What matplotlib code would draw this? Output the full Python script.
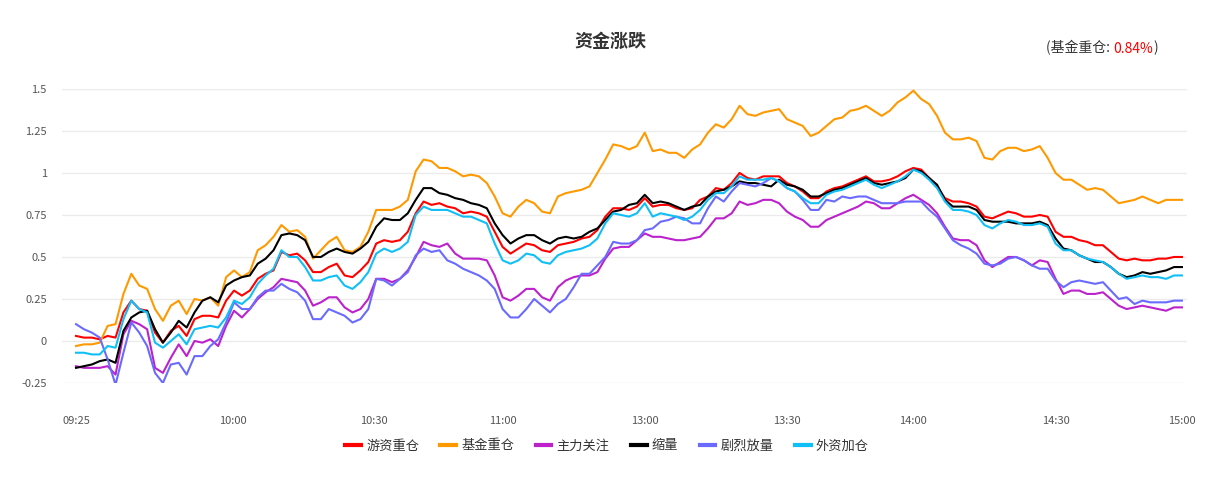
import matplotlib
matplotlib.use("Agg")
import matplotlib.pyplot as plt
from matplotlib.offsetbox import TextArea, HPacker, AnnotationBbox

plt.rcParams["font.family"] = ["Noto Sans CJK SC", "DejaVu Sans"]

# tick labels of the time axis and where they sit on the sample index
time_labels = ["09:25", "10:00", "10:30", "11:00", "13:00", "13:30", "14:00", "14:30", "15:00"]
time_pos = [0, 19.9, 37.7, 54, 72, 90, 106, 124, 140]

y_ticks = [-0.25, 0, 0.25, 0.5, 0.75, 1, 1.25, 1.5]
y_labels = ["-0.25", "0", "0.25", "0.5", "0.75", "1", "1.25", "1.5"]

names = ["游资重仓", "基金重仓", "主力关注", "缩量", "剧烈放量", "外资加仓"]
colors = ["#ff0000", "#ff9900", "#bb22cc", "#000000", "#6a6aff", "#10bff5"]

# 游资重仓
red = [0.03, 0.02, 0.02, 0.01, 0.03, 0.02, 0.17, 0.24, 0.19, 0.18,
       0.05, -0.01, 0.06, 0.09, 0.03, 0.13, 0.15, 0.15, 0.14, 0.24,
       0.30, 0.27, 0.30, 0.37, 0.40, 0.42, 0.53, 0.51, 0.52, 0.48,
       0.41, 0.41, 0.44, 0.46, 0.39, 0.38, 0.42, 0.47, 0.58, 0.60,
       0.59, 0.60, 0.65, 0.76, 0.83, 0.81, 0.82, 0.80, 0.79, 0.76,
       0.77, 0.76, 0.74, 0.65, 0.56, 0.52, 0.55, 0.58, 0.57, 0.54,
       0.53, 0.57, 0.58, 0.59, 0.61, 0.62, 0.66, 0.74, 0.79, 0.79,
       0.78, 0.80, 0.85, 0.80, 0.81, 0.81, 0.79, 0.78, 0.79, 0.84,
       0.86, 0.91, 0.90, 0.94, 1.00, 0.97, 0.96, 0.98, 0.98, 0.98,
       0.94, 0.92, 0.89, 0.85, 0.85, 0.89, 0.91, 0.92, 0.94, 0.96,
       0.98, 0.95, 0.95, 0.96, 0.98, 1.01, 1.03, 1.02, 0.97, 0.92,
       0.85, 0.83, 0.83, 0.82, 0.80, 0.74, 0.73, 0.75, 0.77, 0.76,
       0.74, 0.74, 0.75, 0.74, 0.65, 0.62, 0.62, 0.60, 0.59, 0.57,
       0.57, 0.53, 0.49, 0.48, 0.49, 0.48, 0.48, 0.49, 0.49, 0.50, 0.50]

# 基金重仓
orange = [-0.03, -0.02, -0.02, -0.01, 0.09, 0.10, 0.28, 0.40, 0.33, 0.31,
          0.19, 0.12, 0.21, 0.24, 0.16, 0.25, 0.24, 0.26, 0.21, 0.38,
          0.42, 0.38, 0.41, 0.54, 0.57, 0.62, 0.69, 0.65, 0.66, 0.62,
          0.49, 0.54, 0.59, 0.62, 0.54, 0.53, 0.56, 0.65, 0.78, 0.78,
          0.78, 0.80, 0.84, 1.01, 1.08, 1.07, 1.03, 1.03, 1.01, 0.98,
          0.99, 0.98, 0.94, 0.86, 0.76, 0.74, 0.80, 0.84, 0.82, 0.77,
          0.76, 0.86, 0.88, 0.89, 0.90, 0.92, 1.00, 1.08, 1.17, 1.16,
          1.14, 1.16, 1.24, 1.13, 1.14, 1.12, 1.12, 1.09, 1.14, 1.17,
          1.24, 1.29, 1.27, 1.32, 1.40, 1.35, 1.34, 1.36, 1.37, 1.38,
          1.32, 1.30, 1.28, 1.22, 1.24, 1.28, 1.32, 1.33, 1.37, 1.38,
          1.40, 1.37, 1.34, 1.37, 1.42, 1.45, 1.49, 1.44, 1.41, 1.34,
          1.24, 1.20, 1.20, 1.21, 1.19, 1.09, 1.08, 1.13, 1.15, 1.15,
          1.13, 1.14, 1.16, 1.09, 1.00, 0.96, 0.96, 0.93, 0.90, 0.91,
          0.90, 0.86, 0.82, 0.83, 0.84, 0.86, 0.84, 0.82, 0.84, 0.84, 0.84]

# 主力关注
purple = [-0.15, -0.16, -0.16, -0.16, -0.15, -0.20, 0.04, 0.12, 0.10, 0.07,
          -0.16, -0.19, -0.10, -0.02, -0.09, 0.00, -0.01, 0.01, -0.03, 0.09,
          0.18, 0.14, 0.19, 0.25, 0.29, 0.32, 0.37, 0.36, 0.35, 0.30,
          0.21, 0.23, 0.26, 0.26, 0.20, 0.17, 0.19, 0.25, 0.37, 0.37,
          0.35, 0.37, 0.42, 0.50, 0.59, 0.57, 0.56, 0.58, 0.52, 0.49,
          0.49, 0.49, 0.48, 0.39, 0.26, 0.24, 0.27, 0.31, 0.31, 0.26,
          0.24, 0.32, 0.36, 0.38, 0.39, 0.39, 0.41, 0.49, 0.55, 0.56,
          0.56, 0.60, 0.64, 0.62, 0.62, 0.61, 0.60, 0.60, 0.61, 0.62,
          0.67, 0.73, 0.73, 0.76, 0.83, 0.81, 0.82, 0.84, 0.84, 0.82,
          0.77, 0.74, 0.72, 0.68, 0.68, 0.72, 0.74, 0.76, 0.78, 0.80,
          0.83, 0.82, 0.79, 0.79, 0.82, 0.85, 0.87, 0.84, 0.81, 0.76,
          0.68, 0.61, 0.60, 0.60, 0.57, 0.48, 0.44, 0.47, 0.50, 0.50,
          0.48, 0.45, 0.48, 0.47, 0.37, 0.28, 0.30, 0.30, 0.28, 0.28,
          0.29, 0.25, 0.21, 0.19, 0.20, 0.21, 0.20, 0.19, 0.18, 0.20, 0.20]

# 缩量
black = [-0.16, -0.15, -0.14, -0.12, -0.11, -0.13, 0.06, 0.14, 0.17, 0.18,
         0.07, -0.01, 0.05, 0.12, 0.08, 0.17, 0.24, 0.26, 0.23, 0.33,
         0.36, 0.38, 0.39, 0.46, 0.49, 0.54, 0.63, 0.64, 0.63, 0.60,
         0.50, 0.50, 0.53, 0.55, 0.53, 0.52, 0.55, 0.59, 0.68, 0.73,
         0.72, 0.72, 0.76, 0.84, 0.91, 0.91, 0.88, 0.87, 0.85, 0.84,
         0.82, 0.81, 0.79, 0.70, 0.63, 0.58, 0.61, 0.63, 0.63, 0.60,
         0.58, 0.61, 0.62, 0.61, 0.62, 0.65, 0.67, 0.72, 0.77, 0.78,
         0.81, 0.82, 0.87, 0.82, 0.83, 0.82, 0.80, 0.78, 0.80, 0.81,
         0.86, 0.89, 0.90, 0.92, 0.95, 0.94, 0.94, 0.93, 0.92, 0.96,
         0.93, 0.92, 0.90, 0.86, 0.86, 0.88, 0.90, 0.91, 0.93, 0.95,
         0.97, 0.94, 0.93, 0.94, 0.95, 0.97, 1.02, 1.01, 0.97, 0.93,
         0.84, 0.80, 0.80, 0.80, 0.78, 0.72, 0.71, 0.71, 0.71, 0.70,
         0.70, 0.70, 0.71, 0.69, 0.61, 0.55, 0.54, 0.51, 0.49, 0.47,
         0.47, 0.44, 0.40, 0.38, 0.39, 0.41, 0.40, 0.41, 0.42, 0.44, 0.44]

# 剧烈放量
blue = [0.10, 0.07, 0.05, 0.02, -0.11, -0.26, -0.07, 0.11, 0.05, -0.03,
        -0.19, -0.25, -0.14, -0.13, -0.20, -0.09, -0.09, -0.03, 0.01, 0.11,
        0.23, 0.19, 0.19, 0.26, 0.30, 0.30, 0.34, 0.31, 0.29, 0.24,
        0.13, 0.13, 0.19, 0.17, 0.15, 0.11, 0.13, 0.19, 0.37, 0.36,
        0.33, 0.37, 0.41, 0.51, 0.55, 0.53, 0.54, 0.48, 0.46, 0.43,
        0.41, 0.39, 0.36, 0.31, 0.19, 0.14, 0.14, 0.19, 0.25, 0.21,
        0.17, 0.22, 0.25, 0.32, 0.40, 0.40, 0.45, 0.50, 0.59, 0.58,
        0.58, 0.60, 0.66, 0.67, 0.71, 0.72, 0.74, 0.73, 0.70, 0.70,
        0.79, 0.86, 0.83, 0.89, 0.94, 0.93, 0.92, 0.94, 0.97, 0.95,
        0.91, 0.89, 0.84, 0.78, 0.78, 0.84, 0.83, 0.86, 0.85, 0.86,
        0.86, 0.84, 0.82, 0.82, 0.82, 0.83, 0.83, 0.83, 0.78, 0.74,
        0.67, 0.60, 0.57, 0.55, 0.52, 0.46, 0.45, 0.46, 0.49, 0.50,
        0.48, 0.45, 0.43, 0.43, 0.36, 0.32, 0.35, 0.36, 0.35, 0.34,
        0.35, 0.30, 0.25, 0.26, 0.22, 0.24, 0.23, 0.23, 0.23, 0.24, 0.24]

# 外资加仓
cyan = [-0.07, -0.07, -0.08, -0.08, -0.03, -0.04, 0.13, 0.24, 0.19, 0.17,
        -0.01, -0.04, 0.00, 0.04, -0.02, 0.07, 0.08, 0.09, 0.08, 0.14,
        0.24, 0.22, 0.26, 0.34, 0.39, 0.43, 0.54, 0.50, 0.50, 0.44,
        0.36, 0.36, 0.38, 0.39, 0.33, 0.31, 0.35, 0.41, 0.52, 0.55,
        0.53, 0.55, 0.59, 0.75, 0.80, 0.78, 0.78, 0.78, 0.76, 0.74,
        0.74, 0.72, 0.70, 0.58, 0.48, 0.46, 0.48, 0.52, 0.51, 0.47,
        0.46, 0.51, 0.53, 0.54, 0.55, 0.57, 0.61, 0.70, 0.76, 0.75,
        0.74, 0.76, 0.82, 0.74, 0.76, 0.75, 0.74, 0.72, 0.74, 0.78,
        0.84, 0.88, 0.88, 0.92, 0.98, 0.96, 0.96, 0.96, 0.97, 0.95,
        0.91, 0.89, 0.85, 0.82, 0.82, 0.87, 0.89, 0.90, 0.92, 0.94,
        0.96, 0.93, 0.91, 0.93, 0.95, 0.98, 1.02, 1.00, 0.96, 0.91,
        0.83, 0.78, 0.78, 0.77, 0.75, 0.69, 0.67, 0.70, 0.72, 0.71,
        0.69, 0.69, 0.70, 0.68, 0.58, 0.54, 0.54, 0.51, 0.49, 0.48,
        0.47, 0.44, 0.40, 0.37, 0.38, 0.39, 0.38, 0.38, 0.37, 0.39, 0.39]

series = [red, orange, purple, black, blue, cyan]

fig = plt.figure(figsize=(12.24, 4.87), dpi=100)
ax = fig.add_axes([0.0507, 0.2136, 0.919, 0.6037])

x = list(range(len(red)))
for vals, c, name in zip(series, colors, names):
    ax.plot(x, vals, color=c, lw=1.5, label=name)

ax.set_xlim(-1.77, 140.63)
ax.set_ylim(-0.25, 1.5)
ax.set_yticks(y_ticks)
ax.set_yticklabels(y_labels)
ax.set_xticks(time_pos)
ax.set_xticklabels(time_labels)
ax.grid(axis="y", color="#ebebeb", lw=1)
ax.set_axisbelow(True)
for s in ax.spines.values():
    s.set_visible(False)
ax.tick_params(axis="both", length=0, labelsize=8, colors="#555555")
ax.tick_params(axis="x", pad=24)
ax.tick_params(axis="y", pad=11)

fig.text(610 / 1224, 1 - 41 / 487, "资金涨跌", ha="center", va="center",
         fontsize=13, fontweight="bold", color="#333333")

# note in the top right corner, value in red
parts = [TextArea("(基金重仓: ", textprops=dict(color="#333333", fontsize=10)),
         TextArea("0.84%", textprops=dict(color="#ff0000", fontsize=10)),
         TextArea(")", textprops=dict(color="#333333", fontsize=10))]
box = HPacker(children=parts, sep=0, pad=0, align="baseline")
ab = AnnotationBbox(box, (1158 / 1224, 1 - 48 / 487), xycoords="figure fraction",
                    box_alignment=(1, 0.5), frameon=False, pad=0)
fig.add_artist(ab)

leg = ax.legend(loc="center", bbox_to_anchor=(607 / 1224, 41 / 487),
                bbox_transform=fig.transFigure, ncol=6, frameon=False,
                fontsize=9.5, handlelength=1.2, handletextpad=0.4,
                columnspacing=1.6)
for line in leg.get_lines():
    line.set_linewidth(3)
for t in leg.get_texts():
    t.set_color("#333333")

fig.savefig("out.png", dpi=100)
